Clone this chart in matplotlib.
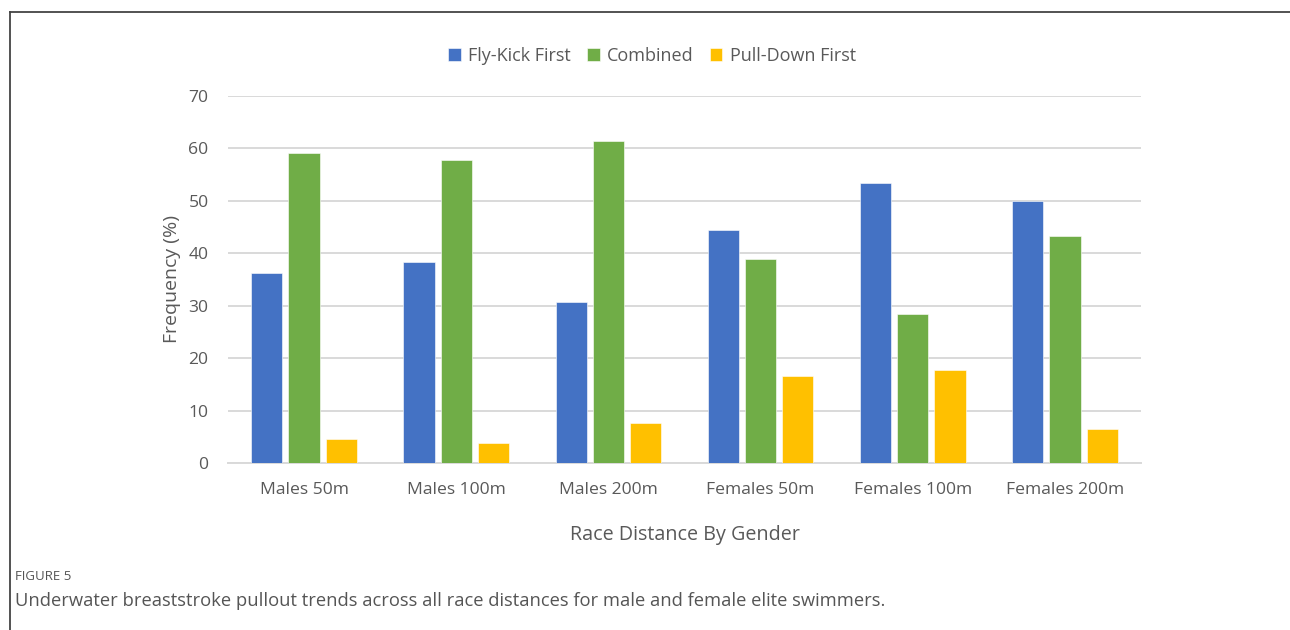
import matplotlib
matplotlib.use("Agg")
import matplotlib.pyplot as plt
import numpy as np
from matplotlib.lines import Line2D

plt.rcParams['font.family'] = ['Open Sans', 'DejaVu Sans']

categories = ["Males 50m", "Males 100m", "Males 200m",
              "Females 50m", "Females 100m", "Females 200m"]
series_names = ["Fly-Kick First", "Combined", "Pull-Down First"]
fly_kick_first = [36.3, 38.4, 30.7, 44.4, 53.5, 50.0]
combined = [59.1, 57.7, 61.5, 38.9, 28.5, 43.3]
pull_down_first = [4.5, 3.8, 7.6, 16.6, 17.7, 6.5]
colors = ["#4472C4", "#70AD47", "#FFC000"]
y_ticks = [0, 10, 20, 30, 40, 50, 60, 70]

fig = plt.figure(figsize=(12.9, 6.3), dpi=100)
ax = fig.add_axes([0.1767, 0.2651, 0.7078, 0.5825])

x = np.arange(len(categories))
width = 0.205
pitch = 0.245
for i, (vals, name, col) in enumerate(zip([fly_kick_first, combined, pull_down_first],
                                          series_names, colors)):
    ax.bar(x + (i - 1) * pitch, vals, width, color=col, label=name,
           edgecolor="white", linewidth=0.4, zorder=3)

ax.set_xlim(-0.5, len(categories) - 0.5)
ax.set_ylim(0, 70)
ax.set_yticks(y_ticks)
ax.yaxis.grid(True, color="#d9d9d9", linewidth=1.4, zorder=0)
for s in ["top", "right", "left"]:
    ax.spines[s].set_visible(False)
ax.spines["bottom"].set_color("#d9d9d9")
ax.spines["bottom"].set_linewidth(1.4)
ax.set_xticks(x)
ax.set_xticklabels(categories)
ax.tick_params(axis="both", length=0, labelsize=12.6, labelcolor="#595959")
ax.tick_params(axis="y", pad=14)
ax.tick_params(axis="x", pad=14)

ax.set_ylabel("Frequency (%)", fontsize=14, color="#595959", labelpad=5)
ax.set_xlabel("Race Distance By Gender", fontsize=14.2, color="#595959", labelpad=19)

ax.legend(loc="center", bbox_to_anchor=(652 / 1290, 1 - 56 / 630),
          bbox_transform=fig.transFigure, ncol=3, frameon=False,
          fontsize=13, labelcolor="#595959", handlelength=0.7, handleheight=0.7,
          handletextpad=0.4, columnspacing=0.9)

# Caption panel border (left and top edges)
fig.add_artist(Line2D([10 / 1290, 10 / 1290], [0, 1 - 12 / 630],
                      transform=fig.transFigure, color="#444444", linewidth=1.3))
fig.add_artist(Line2D([10 / 1290, 1], [1 - 12 / 630, 1 - 12 / 630],
                      transform=fig.transFigure, color="#444444", linewidth=1.3))

fig.text(15 / 1290, 1 - 576 / 630, "FIGURE 5", fontsize=9.5, color="#555555",
         va="center", ha="left")
fig.text(15 / 1290, 1 - 601 / 630,
         "Underwater breaststroke pullout trends across all race distances for male and female elite swimmers.",
         fontsize=13.2, color="#555555", va="center", ha="left")

fig.savefig("out.png", dpi=100, facecolor="white")
